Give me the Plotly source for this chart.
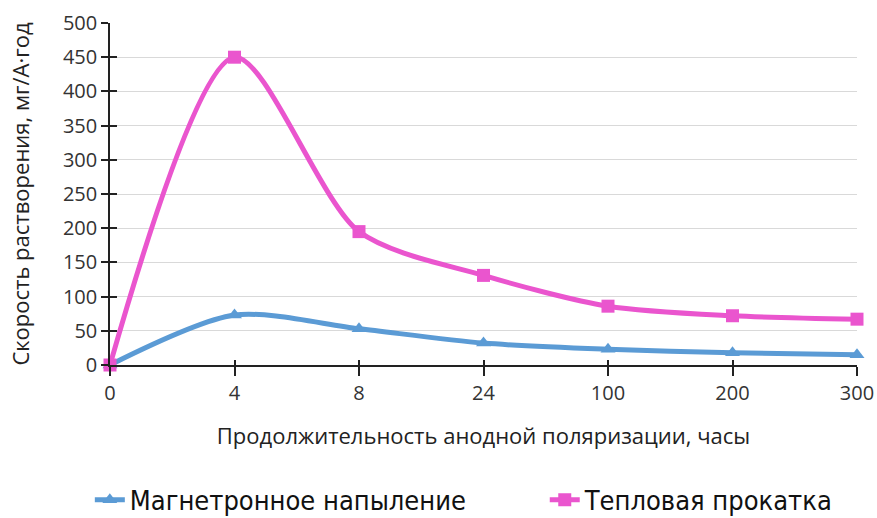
import plotly.graph_objects as go

categories = ["0", "4", "8", "24", "100", "200", "300"]
magnetron = [0, 73, 53, 32, 23, 18, 15]
rolling = [0, 450, 195, 131, 86, 72, 67]
series_names = ["Магнетронное напыление", "Тепловая прокатка"]
y_ticks = [0, 50, 100, 150, 200, 250, 300, 350, 400, 450, 500]
x_title = "Продолжительность анодной поляризации, часы"
y_title = "Скорость растворения, мг/А·год"

BLUE = "#5B9BD5"
PINK = "#EA55CE"
LEGEND_FONT = dict(size=27, family="DejaVu Sans Condensed, Liberation Sans Narrow, sans-serif", color="#111111")

fig = go.Figure()
fig.add_trace(go.Scatter(
    x=categories, y=magnetron, name=series_names[0], mode="lines+markers",
    line=dict(color=BLUE, width=5, shape="spline", smoothing=0.8),
    marker=dict(symbol="triangle-up", size=13, color=BLUE),
    cliponaxis=False, legend="legend",
))
fig.add_trace(go.Scatter(
    x=categories, y=rolling, name=series_names[1], mode="lines+markers",
    line=dict(color=PINK, width=5, shape="spline", smoothing=0.8),
    marker=dict(symbol="square", size=13, color=PINK),
    cliponaxis=False, legend="legend2",
))
# invisible helper trace so the overlay axes can draw inward tick halves (crossing ticks)
fig.add_trace(go.Scatter(
    x=categories, y=rolling, xaxis="x2", yaxis="y2", mode="markers",
    marker=dict(opacity=0), showlegend=False, hoverinfo="skip",
))

font_family = "Open Sans, Liberation Sans, sans-serif"
fig.update_layout(
    width=877, height=518,
    margin=dict(l=110, r=20, t=23, b=153, autoexpand=False),
    paper_bgcolor="white", plot_bgcolor="white",
    font=dict(family=font_family, size=20, color="#333333"),
    showlegend=True,
    legend=dict(x=-0.027, xanchor="left", y=-0.395, yanchor="middle",
                font=LEGEND_FONT, bgcolor="rgba(0,0,0,0)"),
    legend2=dict(x=0.582, xanchor="left", y=-0.395, yanchor="middle",
                 font=LEGEND_FONT, bgcolor="rgba(0,0,0,0)"),
    xaxis=dict(
        type="category", range=[0, 6], showgrid=False, automargin=False,
        showline=True, linecolor="#222222", linewidth=1.5,
        ticks="outside", ticklen=9, tickcolor="#222222", tickwidth=1.5,
        tickfont=dict(size=20),
        title=dict(text=x_title, font=dict(size=22, color="#222222"), standoff=24),
        zeroline=False,
    ),
    yaxis=dict(
        range=[0, 500], tickvals=y_ticks, showgrid=True, gridcolor="#d9d9d9", gridwidth=1,
        automargin=False,
        showline=True, linecolor="#222222", linewidth=1.5,
        ticks="outside", ticklen=7, tickcolor="#222222", tickwidth=1.5,
        tickfont=dict(size=20),
        title=dict(text=y_title, font=dict(size=22, color="#222222"), standoff=27),
        zeroline=False,
    ),
    xaxis2=dict(
        type="category", range=[0, 6], overlaying="x", side="bottom",
        categoryorder="array", categoryarray=categories,
        showgrid=False, showline=False, showticklabels=False, automargin=False,
        ticks="inside", ticklen=5, tickcolor="#222222", tickwidth=1.5, zeroline=False,
    ),
    yaxis2=dict(
        range=[0, 500], tickvals=y_ticks, overlaying="y", side="left",
        showgrid=False, showline=False, showticklabels=False, automargin=False,
        ticks="inside", ticklen=7, tickcolor="#222222", tickwidth=1.5, zeroline=False,
    ),
)

# remove the default 8px page margin so the figure fills the window exactly
fig.write_html(
    "out.html",
    config={"displayModeBar": False},
    post_script="document.body.style.margin='0';document.documentElement.style.overflow='hidden';",
)
